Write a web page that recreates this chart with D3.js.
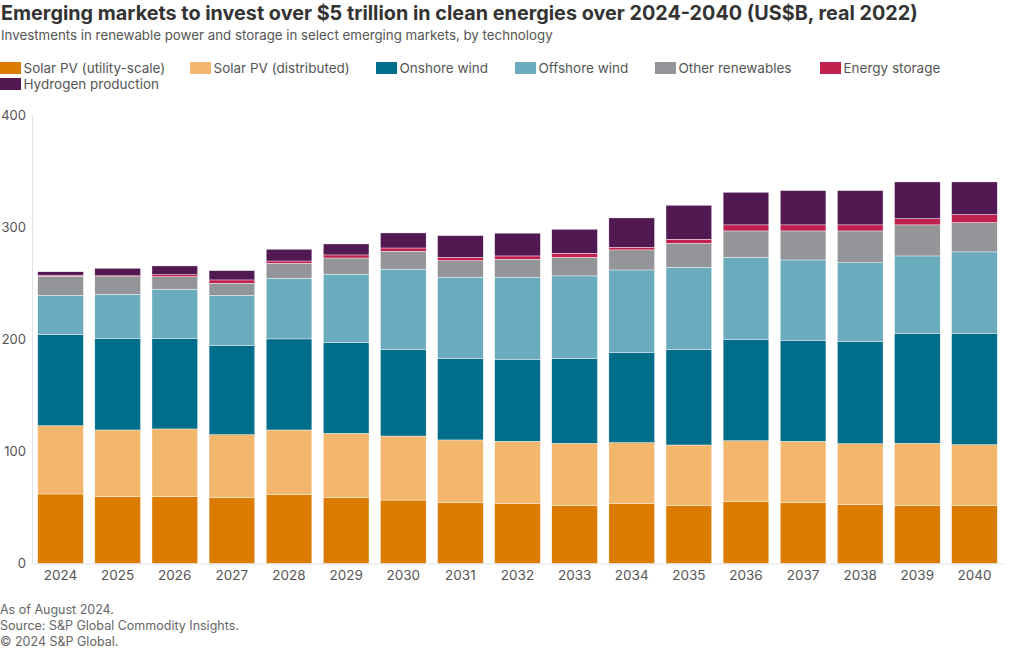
<!DOCTYPE html>
<html>
<head>
<meta charset="utf-8">
<script src="https://cdn.jsdelivr.net/npm/d3@7/dist/d3.min.js"></script>
<style>
  body { margin: 0; background: #fff; }
  svg { display: block; font-family: Inter, "Noto Sans", sans-serif; }
</style>
</head>
<body>
<svg id="chart" width="1020" height="650"></svg>
<script>
const years = ["2024","2025","2026","2027","2028","2029","2030","2031","2032","2033","2034","2035","2036","2037","2038","2039","2040"];
const seriesNames = ["Solar PV (utility-scale)","Solar PV (distributed)","Onshore wind","Offshore wind","Other renewables","Energy storage","Hydrogen production"];
const solarUtility = [62.0,59.6,59.6,58.7,61.4,58.7,56.6,54.2,53.7,51.9,53.7,51.9,55.1,54.2,52.8,51.9,51.9];
const solarDistributed = [60.9,59.5,60.4,56.2,57.7,57.4,57.1,56.0,55.3,55.3,54.1,53.8,54.4,54.8,54.1,55.3,54.1];
const onshoreWind = [81.2,81.4,80.5,79.7,81.2,80.9,77.4,72.8,73.2,75.5,80.2,85.0,90.1,90.1,91.3,98.2,99.4];
const offshoreWind = [35.1,39.6,44.1,44.6,54.1,61.0,71.3,72.3,73.1,73.8,73.8,73.5,73.5,71.6,70.1,68.9,72.5];
const otherRenewables = [17.0,15.7,11.2,10.8,13.4,14.5,16.1,14.8,16.1,16.6,17.9,21.4,23.5,25.9,28.3,27.7,26.1];
const energyStorage = [1.0,0.8,1.8,2.9,2.0,2.7,2.9,3.0,2.9,3.6,2.4,3.6,5.4,5.4,5.4,5.6,7.2];
const hydrogen = [3.0,6.7,7.8,8.3,10.5,9.8,13.4,19.3,20.3,21.4,26.1,30.3,29.1,30.6,30.6,32.7,29.1];
const yTicks = [0,100,200,300,400];
const colors = ["#DB7C00","#F2B66C","#006D8A","#6AABBE","#939598","#C1204E","#521852"];

const allSeries = [solarUtility,solarDistributed,onshoreWind,offshoreWind,otherRenewables,energyStorage,hydrogen];
const rows = years.map((y,i) => {
  const r = {year: y};
  seriesNames.forEach((s,k) => r[s] = allSeries[k][i]);
  return r;
});

const svg = d3.select("#chart");
const font = "Inter, 'Noto Sans', sans-serif";

svg.append("text").attr("x",1).attr("y",20)
  .attr("font-size",19.8).attr("font-weight",700).attr("fill","#333")
  .text("Emerging markets to invest over $5 trillion in clean energies over 2024-2040 (US$B, real 2022)");
svg.append("text").attr("x",1).attr("y",40)
  .attr("font-size",13.3).attr("fill","#555")
  .text("Investments in renewable power and storage in select emerging markets, by technology");

// legend
const legendPos = [[0,62],[190,62],[376,62],[515,62],[655,62],[820,62],[0,78]];
const lg = svg.append("g");
seriesNames.forEach((s,k) => {
  const g = lg.append("g").attr("transform",`translate(${legendPos[k][0]},${legendPos[k][1]})`);
  g.append("rect").attr("width",21).attr("height",12).attr("fill",colors[k]);
  g.append("text").attr("x",23.5).attr("y",10.5).attr("font-size",13.5).attr("fill","#555").text(s);
});

const x = d3.scaleBand().domain(years).range([32,1003]).paddingInner(0.2).paddingOuter(0.1);
const y = d3.scaleLinear().domain([0,400]).range([563.5,115]);

const stack = d3.stack().keys(seriesNames)(rows);

svg.append("g").selectAll("g").data(stack).join("g")
  .attr("fill",(d,i) => colors[i])
  .selectAll("rect").data(d => d).join("rect")
  .attr("x", d => x(d.data.year))
  .attr("width", x.bandwidth())
  .attr("y", d => y(d[1]))
  .attr("height", d => y(d[0]) - y(d[1]))
  .attr("stroke","#fff").attr("stroke-width",0.4);

// axes
const yAxis = svg.append("g").attr("transform","translate(32,0)")
  .call(d3.axisLeft(y).tickValues(yTicks).tickSize(0).tickPadding(6));
yAxis.select(".domain").attr("stroke","#dde3e8");
yAxis.selectAll("text").attr("font-size",13).attr("fill","#555").attr("font-family",font);

const xAxis = svg.append("g").attr("transform","translate(0,563.5)")
  .call(d3.axisBottom(x).tickSize(0).tickPadding(7));
xAxis.select(".domain").attr("stroke","#dde3e8");
xAxis.selectAll("text").attr("font-size",13.5).attr("fill","#555").attr("font-family",font);

// footer
const foot = ["As of August 2024.","Source: S&P Global Commodity Insights.","© 2024 S&P Global."];
foot.forEach((t,i) => {
  svg.append("text").attr("x",0).attr("y",614 + i*16).attr("font-size",12.5).attr("fill","#666").text(t);
});
</script>
</body>
</html>
